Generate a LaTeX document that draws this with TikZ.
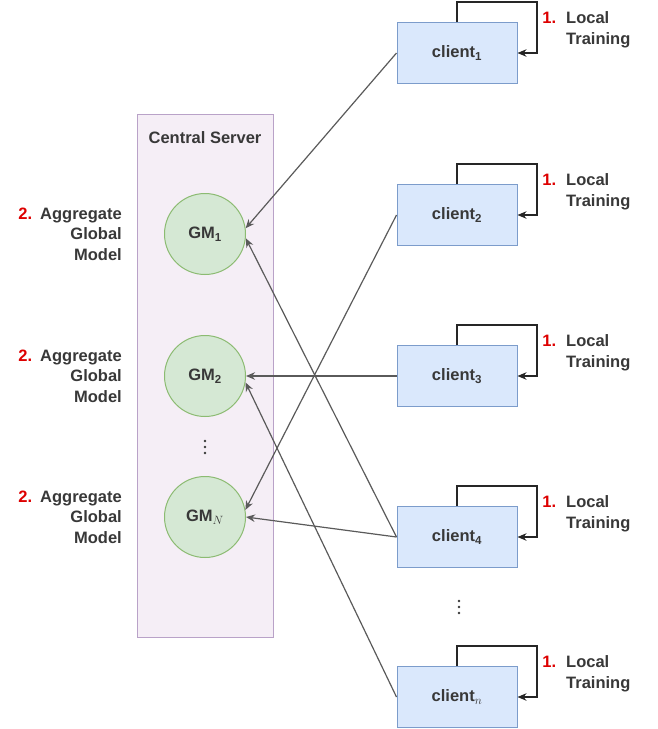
\documentclass[tikz,border=0pt]{standalone}
\usepackage{fontspec}
\setmainfont{Liberation Sans}
\usetikzlibrary{arrows.meta,calc}
\definecolor{clientfill}{HTML}{DAE8FC}
\definecolor{clientdraw}{HTML}{7C9CCB}
\definecolor{gmfill}{HTML}{D5E8D4}
\definecolor{gmdraw}{HTML}{8CBB72}
\definecolor{srvfill}{HTML}{F5EEF6}
\definecolor{srvdraw}{HTML}{B9A2C8}
\definecolor{txt}{HTML}{383838}
\definecolor{stepred}{HTML}{DD0000}
\definecolor{linkgray}{HTML}{5A5A5A}
\begin{document}
\begin{tikzpicture}[x=1pt,y=-1pt,
  every node/.style={font=\fontsize{16.5}{20.5}\selectfont\bfseries, text=txt},
  clientbox/.style={draw=clientdraw, fill=clientfill, line width=1pt,
    minimum width=120pt, minimum height=61pt, inner sep=0pt},
  gmnode/.style={circle, draw=gmdraw, fill=gmfill, line width=1pt,
    minimum size=81pt, inner sep=0pt},
  server/.style={draw=srvdraw, fill=srvfill, line width=1pt,
    minimum width=136pt, minimum height=523pt, inner sep=0pt},
  link/.style={draw=linkgray, line width=1.2pt, -{Stealth[length=9pt,width=7.5pt]}},
  selfloop/.style={draw=black!85, line width=1.1pt, -{Stealth[length=9pt,width=7.5pt]}},
  steplabel/.style={align=left, anchor=west, inner sep=0pt},
  agglabel/.style={align=right, anchor=east, inner sep=0pt},
  dotsfill/.style={fill=txt}]
\useasboundingbox (0,0) rectangle (657,729);

% central server with its global models
\node[server] (srv) at (205,375.5) {};
\node (srvtitle) at (205,138) {Central Server};
\node[gmnode] (g1) at (205,234) {GM\textsubscript{1}};
\node[gmnode] (g2) at (205,376) {GM\textsubscript{2}};
\node[gmnode] (gN) at (205,517) {GM$_{N}$};
\foreach \yy in {441,447,453} \fill[dotsfill] (205,\yy) circle (1.4);

% aggregation step labels
\foreach \g in {g1,g2,gN}
  \node[agglabel] (agg-\g) at (122,0 |- \g.center)
    {\textcolor{stepred}{2.}\hspace{8pt}Aggregate\\Global\\Model};

% clients
\node[clientbox] (c1) at (457,53)  {client\textsubscript{1}};
\node[clientbox] (c2) at (457,215) {client\textsubscript{2}};
\node[clientbox] (c3) at (457,376) {client\textsubscript{3}};
\node[clientbox] (c4) at (457,537) {client\textsubscript{4}};
\node[clientbox] (cn) at (457,697) {client$_{n}$};
\foreach \yy in {601,607,613} \fill[dotsfill] (459,\yy) circle (1.4);

% local training loops and labels
\foreach \c in {c1,c2,c3,c4,cn} {
  \draw[selfloop] (\c.north) -- ++(0,-20) -- ++(80,0) |- (\c.east);
  \node[steplabel] (train-\c) at ($(566,0 |- \c.center)+(0,-23)$)
    {\llap{\textcolor{stepred}{1.}\hspace{10pt}}Local\\Training};
}

% model exchange between clients and server
\draw[link] (c1.west) -- (g1.8);
\draw[link] (c4.west) -- (g1.-6);
\draw[link] (c3.west) -- (g2.east);
\draw[link] (cn.west) -- (g2.-9);
\draw[link] (c2.west) -- (gN.10);
\draw[link] (c4.west) -- (gN.east);
\end{tikzpicture}
\end{document}
